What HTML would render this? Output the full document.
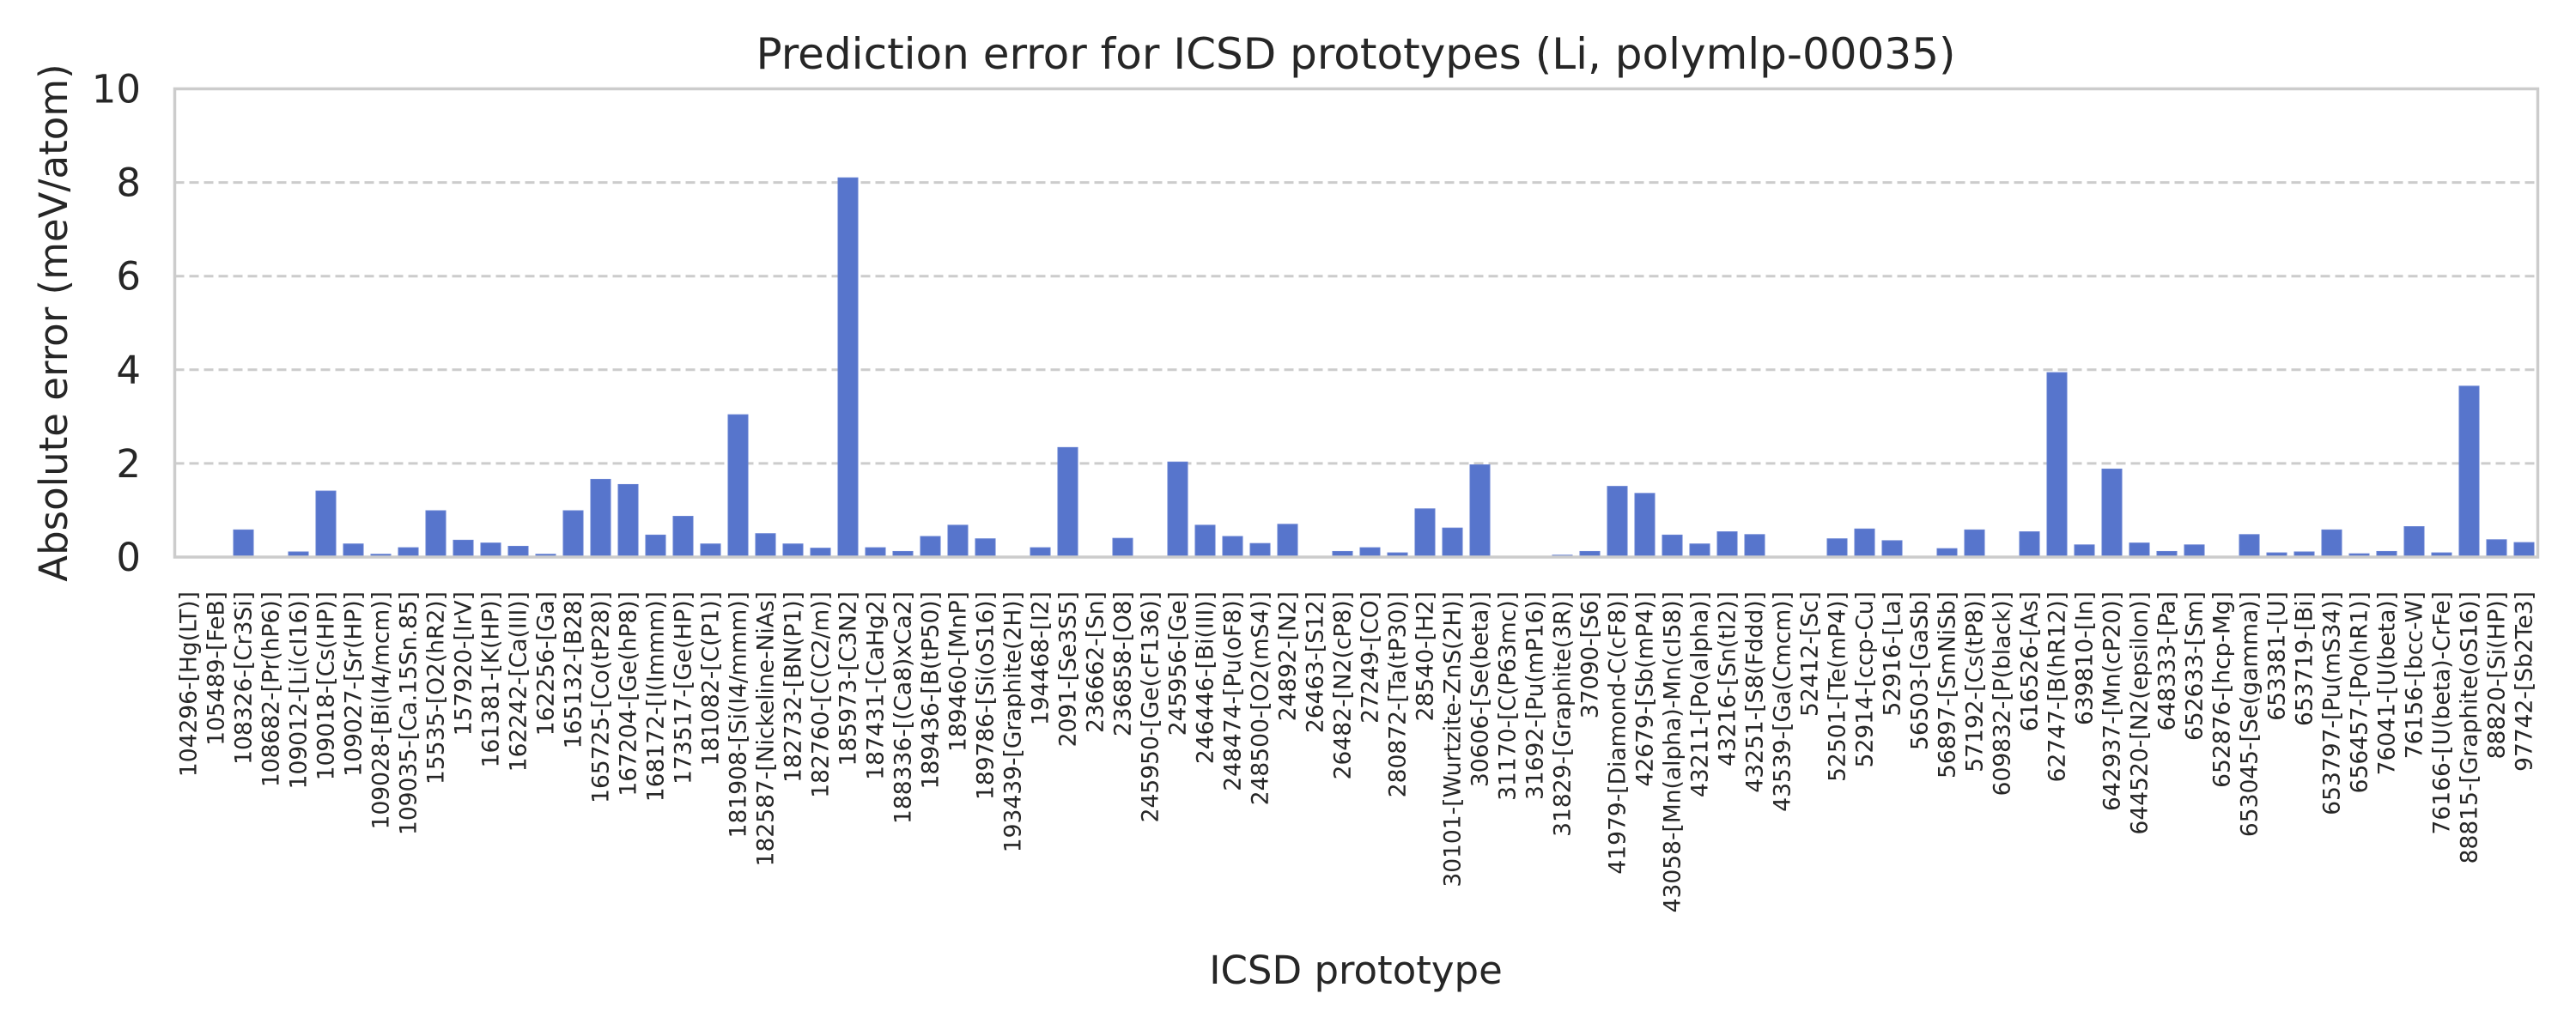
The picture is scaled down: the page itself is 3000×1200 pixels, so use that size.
<!DOCTYPE html>
<html><head><meta charset="utf-8"><style>
html,body{margin:0;padding:0;background:#fff;}
svg{display:block;font-family:"DejaVu Sans","Liberation Sans",sans-serif;}
</style></head><body>
<svg id="chart" width="3000" height="1200" viewBox="0 0 3000 1200" xmlns="http://www.w3.org/2000/svg">
<rect width="3000" height="1200" fill="#fff"/>
<text x="1579" y="80" font-size="50" fill="#262626" text-anchor="middle">Prediction error for ICSD prototypes (Li, polymlp-00035)</text>
<text transform="translate(78,376) rotate(-90)" font-size="45" fill="#262626" text-anchor="middle">Absolute error (meV/atom)</text>
<text x="1579" y="1146" font-size="45" fill="#262626" text-anchor="middle">ICSD prototype</text>
<g id="grid"></g><g id="bars"></g><g id="yticks"></g><g id="xticks"></g>
<rect x="203.5" y="103.5" width="2752" height="545.5" fill="none" stroke="#cccccc" stroke-width="3.5"/>
</svg>
<script>
const categories = ["104296-[Hg(LT)]","105489-[FeB]","108326-[Cr3Si]","108682-[Pr(hP6)]","109012-[Li(cI16)]","109018-[Cs(HP)]","109027-[Sr(HP)]","109028-[Bi(I4/mcm)]","109035-[Ca.15Sn.85]","15535-[O2(hR2)]","157920-[IrV]","161381-[K(HP)]","162242-[Ca(III)]","162256-[Ga]","165132-[B28]","165725-[Co(tP28)]","167204-[Ge(hP8)]","168172-[I(Immm)]","173517-[Ge(HP)]","181082-[C(P1)]","181908-[Si(I4/mmm)]","182587-[Nickeline-NiAs]","182732-[BN(P1)]","182760-[C(C2/m)]","185973-[C3N2]","187431-[CaHg2]","188336-[(Ca8)xCa2]","189436-[B(tP50)]","189460-[MnP]","189786-[Si(oS16)]","193439-[Graphite(2H)]","194468-[I2]","2091-[Se3S5]","236662-[Sn]","236858-[O8]","245950-[Ge(cF136)]","245956-[Ge]","246446-[Bi(III)]","248474-[Pu(oF8)]","248500-[O2(mS4)]","24892-[N2]","26463-[S12]","26482-[N2(cP8)]","27249-[CO]","280872-[Ta(tP30)]","28540-[H2]","30101-[Wurtzite-ZnS(2H)]","30606-[Se(beta)]","31170-[C(P63mc)]","31692-[Pu(mP16)]","31829-[Graphite(3R)]","37090-[S6]","41979-[Diamond-C(cF8)]","42679-[Sb(mP4)]","43058-[Mn(alpha)-Mn(cI58)]","43211-[Po(alpha)]","43216-[Sn(tI2)]","43251-[S8(Fddd)]","43539-[Ga(Cmcm)]","52412-[Sc]","52501-[Te(mP4)]","52914-[ccp-Cu]","52916-[La]","56503-[GaSb]","56897-[SmNiSb]","57192-[Cs(tP8)]","609832-[P(black)]","616526-[As]","62747-[B(hR12)]","639810-[In]","642937-[Mn(cP20)]","644520-[N2(epsilon)]","648333-[Pa]","652633-[Sm]","652876-[hcp-Mg]","653045-[Se(gamma)]","653381-[U]","653719-[Bi]","653797-[Pu(mS34)]","656457-[Po(hR1)]","76041-[U(beta)]","76156-[bcc-W]","76166-[U(beta)-CrFe]","88815-[Graphite(oS16)]","88820-[Si(HP)]","97742-[Sb2Te3]"];
const errors = [0,0,0.58,0,0.11,1.41,0.28,0.06,0.2,0.99,0.36,0.3,0.23,0.06,0.99,1.66,1.55,0.47,0.87,0.28,3.04,0.5,0.28,0.19,8.1,
0.2,0.12,0.44,0.68,0.39,0,0.2,2.34,0,0.4,0,2.03,0.68,0.44,0.29,0.7,0,0.12,0.2,0.09,1.03,0.62,1.97,0,0,0.04,0.12,1.51,1.36,0.47,0.28,
0.54,0.48,0,0,0.39,0.6,0.35,0,0.18,0.58,0,0.54,3.94,0.26,1.88,0.3,0.12,0.26,0,0.48,0.09,0.11,0.58,0.07,0.12,0.65,0.09,3.65,0.37,0.31];
const yTicks = [0,2,4,6,8,10];

const NS="http://www.w3.org/2000/svg";
const X0=203.5,X1=2955.5,Y0=649,Y1=103.5,YMAX=10;
const band=(X1-X0)/categories.length;
function xScale(i){return X0+band*(i+0.5);}
function yScale(v){return Y0-(v/YMAX)*(Y0-Y1);}
function mk(tag,attrs,parent){const e=document.createElementNS(NS,tag);for(const k in attrs)e.setAttribute(k,attrs[k]);parent.appendChild(e);return e;}
const grid=document.getElementById('grid'),bars=document.getElementById('bars'),yt=document.getElementById('yticks'),xt=document.getElementById('xticks');
yTicks.forEach(t=>{
  const y=yScale(t);
  if(t>0&&t<YMAX){const l=mk('line',{x1:X0,x2:X1,y1:y,y2:y,stroke:'#cccccc','stroke-width':3,'stroke-dasharray':'11,6'},grid);
    
    }
  const tx=mk('text',{x:164,y:y+16,'font-size':45,fill:'#262626','text-anchor':'end'},yt);
  tx.textContent=String(t);
  
  
});
const bw=band*0.72;
errors.forEach((v,i)=>{
  const y=yScale(v);
  const r=mk('rect',{x:xScale(i)-bw/2,y:y,width:bw,height:Math.max(0,Y0-y),fill:'#5775cc',stroke:'#6681d2','stroke-width':1},bars);
  
  
});
categories.forEach((c,i)=>{
  const x=xScale(i)+9;
  const tx=mk('text',{transform:'translate('+x+',689) rotate(-90)','font-size':26.5,fill:'#262626','text-anchor':'end'},xt);
  tx.textContent=c;
  
  
});
</script>
</body></html>
